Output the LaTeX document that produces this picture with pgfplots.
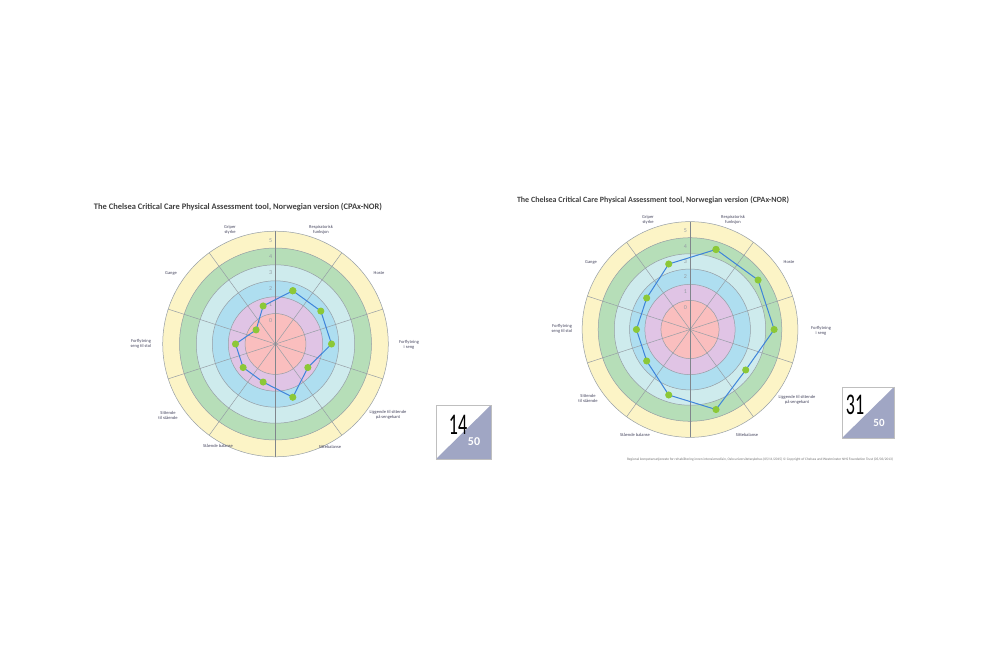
\documentclass[border=0pt]{standalone}
\usepackage{pgfplots}
\pgfplotsset{compat=1.18}
\usepackage{pgfplotstable}
\usepackage{fontspec}
\setmainfont{Carlito}

\definecolor{ringY}{RGB}{252,244,198}
\definecolor{ringG}{RGB}{182,222,184}
\definecolor{ringC}{RGB}{206,235,237}
\definecolor{ringB}{RGB}{174,222,240}
\definecolor{ringL}{RGB}{224,196,229}
\definecolor{ringP}{RGB}{250,190,190}
\definecolor{gridgray}{RGB}{150,158,165}
\definecolor{lineblue}{RGB}{62,132,218}
\definecolor{dotgreen}{RGB}{140,200,55}
\definecolor{labtext}{RGB}{70,70,95}
\definecolor{boxfill}{RGB}{160,166,196}

% angle (deg, counter-clockwise from east), score 0-5
\pgfplotstableread{
angle score
72 2
36 2
0 2
324 1
288 2
252 1
216 1
180 1
144 0
108 1
72 2
}\leftdata

\pgfplotstableread{
angle score
72 4
36 4
0 4
324 3
288 4
252 3
216 2
180 2
144 2
108 3
72 4
}\rightdata

\pgfplotsset{
  radar/.style={hide axis, x=#1, y=#1, xmin=-7.2, xmax=7.2, ymin=-7.2, ymax=7.2,
    anchor=center, clip=false, scale only axis},
}
\tikzset{catlab/.style={font=\fontsize{4.5}{5}\selectfont, text=labtext, align=center, inner sep=0pt}}

\newcommand{\rings}{%
  \fill[ringY, draw=gridgray, line width=0.5pt] (axis cs:0,0) ellipse [x radius=7.05, y radius=7.05];
  \fill[ringG, draw=gridgray, line width=0.5pt] (axis cs:0,0) ellipse [x radius=6.0, y radius=6.0];
  \fill[ringC, draw=gridgray, line width=0.5pt] (axis cs:0,0) ellipse [x radius=4.95, y radius=4.95];
  \fill[ringB, draw=gridgray, line width=0.5pt] (axis cs:0,0) ellipse [x radius=3.95, y radius=3.95];
  \fill[ringL, draw=gridgray, line width=0.5pt] (axis cs:0,0) ellipse [x radius=2.95, y radius=2.95];
  \fill[ringP, draw=gridgray, line width=0.5pt] (axis cs:0,0) ellipse [x radius=1.9, y radius=1.9];
  \pgfplotsinvokeforeach{54,18,-18,-54,-126,-162,-198,-234}{
    \draw[gridgray, line width=0.5pt] (axis cs:0,0) -- (axis cs:{7.05*cos(##1)},{7.05*sin(##1)});
  }
  \draw[gridgray!85!black, line width=0.6pt] (axis cs:0,-7.05) -- (axis cs:0,7.05);
  \pgfplotsinvokeforeach{0,1,2,3,4,5}{
    \node[font=\fontsize{6}{6}\selectfont, text=gridgray, inner sep=0pt] at (axis cs:-0.3,{1.45+##1}) {##1};
  }
}

\begin{document}
\begin{tikzpicture}[x=1pt, y=1pt]
\useasboundingbox (0,0) rectangle (1000,667);
\fill[white] (0,0) rectangle (1000,667);

% ---------- left chart ----------
\begin{axis}[radar=16pt, at={(275.5pt,323pt)}]
\rings
\addplot[lineblue, line width=1pt, mark=*, mark size=3pt,
  mark options={draw=dotgreen, fill=dotgreen}, data cs=polar]
  table[x=angle, y expr=\thisrow{score}+1.5] {\leftdata};
\end{axis}

\node[font=\bfseries, text=black!75, inner sep=0pt] at (238,460)
  {\resizebox{288pt}{!}{The Chelsea Critical Care Physical Assessment tool, Norwegian version (CPAx-NOR)}};
\node[catlab] at (230,437) {Griper\\styrke};
\node[catlab] at (321,437) {Respiratorisk\\funksjon};
\node[catlab] at (379,394) {Hoste};
\node[catlab] at (409,322) {Forflytning\\i seng};
\node[catlab] at (388,252) {Liggende til sittende\\på sengekant};
\node[catlab] at (330,220) {Sittebalanse};
\node[catlab] at (218,221) {Stående balanse};
\node[catlab] at (168,252) {Sittende\\til stående};
\node[catlab] at (141,323) {Forflytning\\seng til stol};
\node[catlab] at (171,394) {Gange};

% score box left
\fill[white] (436,208) rectangle (491,262);
\fill[boxfill] (436,208) -- (491,208) -- (491,262) -- cycle;
\draw[black!25, line width=0.6pt] (436,208) rectangle (491,262);
\node[inner sep=0pt] at (458,242) {\scalebox{0.75}[1.25]{\fontsize{24}{24}\selectfont 14}};
\node[inner sep=0pt, text=white, font=\bfseries\fontsize{12}{12}\selectfont] at (474,225) {50};

% ---------- right chart ----------
\begin{axis}[radar=15.3pt, at={(690pt,337.5pt)}]
\rings
\addplot[lineblue, line width=1pt, mark=*, mark size=3pt,
  mark options={draw=dotgreen, fill=dotgreen}, data cs=polar]
  table[x=angle, y expr=\thisrow{score}+1.5] {\rightdata};
\end{axis}

\node[font=\bfseries, text=black!75, inner sep=0pt] at (653,467)
  {\resizebox{272pt}{!}{The Chelsea Critical Care Physical Assessment tool, Norwegian version (CPAx-NOR)}};
\node[catlab] at (648,447) {Griper\\styrke};
\node[catlab] at (733,447) {Respiratorisk\\funksjon};
\node[catlab] at (789,405) {Hoste};
\node[catlab] at (821,336) {Forflytning\\i seng};
\node[catlab] at (797,267) {Liggende til sittende\\på sengekant};
\node[catlab] at (747,232) {Sittebalanse};
\node[catlab] at (635,232) {Stående balanse};
\node[catlab] at (588,269) {Sittende\\til stående};
\node[catlab] at (562,338) {Forflytning\\seng til stol};
\node[catlab] at (591,405) {Gange};

\node[inner sep=0pt, text=black!55] at (760,207)
  {\resizebox{266pt}{!}{Regional kompetansetjeneste for rehabilitering innen intensivmedisin, Oslo universitetssykehus (05/11/2015) \textcopyright{} Copyright of Chelsea and Westminster NHS Foundation Trust (05/03/2013)}};

% score box right
\fill[white] (842,229) rectangle (894,280);
\fill[boxfill] (842,229) -- (894,229) -- (894,280) -- cycle;
\draw[black!25, line width=0.6pt] (842,229) rectangle (894,280);
\node[inner sep=0pt] at (855,262) {\scalebox{0.75}[1.25]{\fontsize{24}{24}\selectfont 31}};
\node[inner sep=0pt, text=white, font=\bfseries\fontsize{11}{11}\selectfont] at (879,244) {50};
\end{tikzpicture}
\end{document}
